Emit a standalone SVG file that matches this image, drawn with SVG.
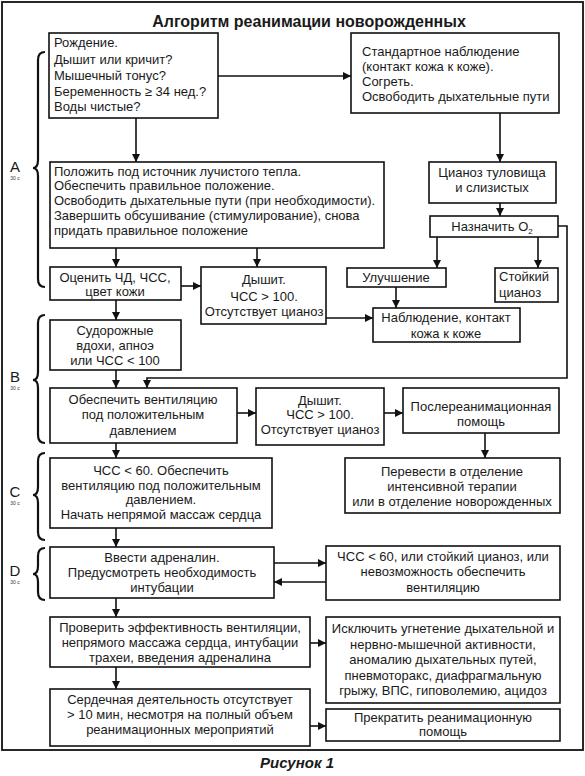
<svg xmlns="http://www.w3.org/2000/svg" width="585" height="776" viewBox="0 0 585 776">
<defs>
<style>
.bx{fill:#fff;stroke:#111;stroke-width:1.6}
.t{font-family:"Liberation Sans",Arial,sans-serif;font-size:13px;fill:#1a1a1a}
.c{text-anchor:middle}
.ln{fill:none;stroke:#111;stroke-width:1.6}
.br{fill:none;stroke:#111;stroke-width:2.2}
.lbl{font-family:"Liberation Sans",Arial,sans-serif;font-size:15px;fill:#1a1a1a;text-anchor:middle}
.sm{font-family:"Liberation Sans",Arial,sans-serif;font-size:5px;fill:#333;text-anchor:middle}
</style>
<marker id="ah" viewBox="0 0 10 10" refX="10" refY="5" markerWidth="8" markerHeight="8" markerUnits="userSpaceOnUse" orient="auto">
<path d="M0,0 L10,5 L0,10 z" fill="#111"/>
</marker>
</defs>
<rect x="0" y="0" width="585" height="776" fill="#fff"/>
<rect x="2" y="2" width="581" height="748" fill="none" stroke="#111" stroke-width="1.8"/>
<text x="309" y="27" font-family="Liberation Sans,Arial,sans-serif" font-size="16" font-weight="bold" fill="#1a1a1a" text-anchor="middle">Алгоритм реанимации новорожденных</text>

<g id="brackets">
<path class="br" d="M45,52 Q38,52 38,60 V160 Q38,168 33,168 Q38,168 38,176 V279 Q38,287 45,287"/>
<text class="lbl" x="15" y="172">A</text><text class="sm" x="15" y="180">30 с</text>
<path class="br" d="M45,315 Q38,315 38,323 V372 Q38,380 33,380 Q38,380 38,388 V435 Q38,443 45,443"/>
<text class="lbl" x="15" y="382">B</text><text class="sm" x="15" y="390">30 с</text>
<path class="br" d="M45,453 Q38,453 38,461 V487 Q38,495 33,495 Q38,495 38,503 V532 Q38,540 45,540"/>
<text class="lbl" x="15" y="497">C</text><text class="sm" x="15" y="505">30 с</text>
<path class="br" d="M45,548 Q38,548 38,556 V566 Q38,574 33,574 Q38,574 38,582 V592 Q38,600 45,600"/>
<text class="lbl" x="15" y="576">D</text><text class="sm" x="15" y="584">30 с</text>
</g>

<g id="connectors">
<path class="ln" marker-end="url(#ah)" d="M218,76 H351"/>
<path class="ln" marker-end="url(#ah)" d="M136,118 V162"/>
<path class="ln" marker-end="url(#ah)" d="M500,113 V162"/>
<path class="ln" marker-end="url(#ah)" d="M500,203 V216"/>
<path class="ln" marker-end="url(#ah)" d="M437,237 V268"/>
<path class="ln" marker-end="url(#ah)" d="M538,237 V268"/>
<path class="ln" marker-end="url(#ah)" d="M558,226 H567 V378 H147 V388"/>
<path class="ln" marker-end="url(#ah)" d="M116,248 V267"/>
<path class="ln" marker-end="url(#ah)" d="M257,248 V267"/>
<path class="ln" marker-end="url(#ah)" d="M181,286 H201"/>
<path class="ln" marker-end="url(#ah)" d="M326,318 H373"/>
<path class="ln" marker-end="url(#ah)" d="M396,287 V308"/>
<path class="ln" marker-end="url(#ah)" d="M116,300 V320"/>
<path class="ln" marker-end="url(#ah)" d="M116,370 V388"/>
<path class="ln" marker-end="url(#ah)" d="M237,413 H256"/>
<path class="ln" marker-end="url(#ah)" d="M384,413 H403"/>
<path class="ln" marker-end="url(#ah)" d="M485,433 V458"/>
<path class="ln" marker-end="url(#ah)" d="M116,443 V458"/>
<path class="ln" marker-end="url(#ah)" d="M116,528 V547"/>
<path class="ln" marker-end="url(#ah)" d="M274,563 H326"/>
<path class="ln" marker-end="url(#ah)" d="M326,582 H274"/>
<path class="ln" marker-end="url(#ah)" d="M116,598 V617"/>
<path class="ln" marker-end="url(#ah)" d="M310,643 H326"/>
<path class="ln" marker-end="url(#ah)" d="M116,667 V689"/>
<path class="ln" marker-end="url(#ah)" d="M310,726 H326"/>
</g>

<g id="n-birth">
<rect class="bx" x="49" y="33" width="169" height="85"/>
<text class="t" x="54" y="47">Рождение.</text>
<text class="t" x="54" y="64">Дышит или кричит?</text>
<text class="t" x="54" y="80">Мышечный тонус?</text>
<text class="t" x="54" y="96">Беременность ≥ 34 нед.?</text>
<text class="t" x="54" y="111">Воды чистые?</text>
</g>
<g id="n-standard">
<rect class="bx" x="351" y="33" width="208" height="80"/>
<text class="t" x="362" y="56">Стандартное наблюдение</text>
<text class="t" x="362" y="71">(контакт кожа к коже).</text>
<text class="t" x="362" y="86">Согреть.</text>
<text class="t" x="362" y="101">Освободить дыхательные пути</text>
</g>
<g id="n-warm">
<rect class="bx" x="50" y="162" width="334" height="86"/>
<text class="t" x="54" y="176">Положить под источник лучистого тепла.</text>
<text class="t" x="54" y="190">Обеспечить правильное положение.</text>
<text class="t" x="54" y="205">Освободить дыхательные пути (при необходимости).</text>
<text class="t" x="54" y="220">Завершить обсушивание (стимулирование), снова</text>
<text class="t" x="54" y="235">придать правильное положение</text>
</g>
<g id="n-cyan">
<rect class="bx" x="429" y="162" width="127" height="41"/>
<text class="t c" x="492" y="177">Цианоз туловища</text>
<text class="t c" x="492" y="192">и слизистых</text>
</g>
<g id="n-o2">
<rect class="bx" x="430" y="216" width="128" height="21"/>
<text class="t c" x="492" y="231">Назначить O<tspan font-size="8" dy="3">2</tspan></text>
</g>
<g id="n-eval">
<rect class="bx" x="50" y="267" width="131" height="33"/>
<text class="t c" x="115" y="282">Оценить ЧД, ЧСС,</text>
<text class="t c" x="115" y="296">цвет кожи</text>
</g>
<g id="n-breath1">
<rect class="bx" x="201" y="267" width="125" height="57"/>
<text class="t c" x="264" y="284">Дышит.</text>
<text class="t c" x="264" y="301">ЧСС &gt; 100.</text>
<text class="t c" x="264" y="316">Отсутствует цианоз</text>
</g>
<g id="n-improve">
<rect class="bx" x="347" y="268" width="99" height="19"/>
<text class="t c" x="396" y="282">Улучшение</text>
</g>
<g id="n-persist">
<rect class="bx" x="495" y="268" width="63" height="34"/>
<text class="t" x="499" y="281">Стойкий</text>
<text class="t" x="499" y="297">цианоз</text>
</g>
<g id="n-observe">
<rect class="bx" x="373" y="308" width="147" height="34"/>
<text class="t c" x="446" y="322">Наблюдение, контакт</text>
<text class="t c" x="446" y="338">кожа к коже</text>
</g>
<g id="n-gasp">
<rect class="bx" x="50" y="320" width="131" height="50"/>
<text class="t c" x="115" y="335">Судорожные</text>
<text class="t c" x="115" y="350">вдохи, апноэ</text>
<text class="t c" x="115" y="365">или ЧСС &lt; 100</text>
</g>
<g id="n-ppv">
<rect class="bx" x="50" y="388" width="187" height="55"/>
<text class="t c" x="143" y="404">Обеспечить вентиляцию</text>
<text class="t c" x="143" y="419">под положительным</text>
<text class="t c" x="143" y="435">давлением</text>
</g>
<g id="n-breath2">
<rect class="bx" x="256" y="388" width="128" height="57"/>
<text class="t c" x="320" y="405">Дышит.</text>
<text class="t c" x="320" y="419">ЧСС &gt; 100.</text>
<text class="t c" x="320" y="434">Отсутствует цианоз</text>
</g>
<g id="n-post">
<rect class="bx" x="403" y="388" width="156" height="45"/>
<text class="t c" x="481" y="411">Послереанимационная</text>
<text class="t c" x="481" y="426">помощь</text>
</g>
<g id="n-transfer">
<rect class="bx" x="345" y="458" width="215" height="55"/>
<text class="t c" x="452" y="476">Перевести в отделение</text>
<text class="t c" x="452" y="491">интенсивной терапии</text>
<text class="t c" x="452" y="506">или в отделение новорожденных</text>
</g>
<g id="n-hr60">
<rect class="bx" x="50" y="458" width="222" height="70"/>
<text class="t c" x="161" y="475">ЧСС &lt; 60. Обеспечить</text>
<text class="t c" x="161" y="490">вентиляцию под положительным</text>
<text class="t c" x="161" y="504">давлением.</text>
<text class="t c" x="161" y="519">Начать непрямой массаж сердца</text>
</g>
<g id="n-adrenaline">
<rect class="bx" x="50" y="547" width="224" height="51"/>
<text class="t c" x="162" y="562">Ввести адреналин.</text>
<text class="t c" x="162" y="577">Предусмотреть необходимость</text>
<text class="t c" x="162" y="592">интубации</text>
</g>
<g id="n-hr60b">
<rect class="bx" x="326" y="546" width="234" height="54"/>
<text class="t c" x="443" y="561">ЧСС &lt; 60, или стойкий цианоз, или</text>
<text class="t c" x="443" y="576">невозможность обеспечить</text>
<text class="t c" x="443" y="592">вентиляцию</text>
</g>
<g id="n-check">
<rect class="bx" x="50" y="617" width="260" height="50"/>
<text class="t c" x="180" y="632">Проверить эффективность вентиляции,</text>
<text class="t c" x="180" y="647">непрямого массажа сердца, интубации</text>
<text class="t c" x="180" y="662">трахеи, введения адреналина</text>
</g>
<g id="n-exclude">
<rect class="bx" x="326" y="617" width="234" height="86"/>
<text class="t c" x="443" y="633">Исключить угнетение дыхательной и</text>
<text class="t c" x="443" y="649">нервно-мышечной активности,</text>
<text class="t c" x="443" y="664">аномалию дыхательных путей,</text>
<text class="t c" x="443" y="680">пневмоторакс, диафрагмальную</text>
<text class="t c" x="443" y="695">грыжу, ВПС, гиповолемию, ацидоз</text>
</g>
<g id="n-absent">
<rect class="bx" x="50" y="689" width="260" height="57"/>
<text class="t c" x="180" y="704">Сердечная деятельность отсутствует</text>
<text class="t c" x="180" y="719">&gt; 10 мин, несмотря на полный объем</text>
<text class="t c" x="180" y="734">реанимационных мероприятий</text>
</g>
<g id="n-stop">
<rect class="bx" x="326" y="709" width="234" height="32"/>
<text class="t c" x="443" y="722" font-size="12">Прекратить реанимационную</text>
<text class="t c" x="443" y="736" font-size="12">помощь</text>
</g>
<text x="297" y="768" font-family="Liberation Sans,Arial,sans-serif" font-size="15" font-weight="bold" font-style="italic" fill="#1a1a1a" text-anchor="middle">Рисунок 1</text>
</svg>
